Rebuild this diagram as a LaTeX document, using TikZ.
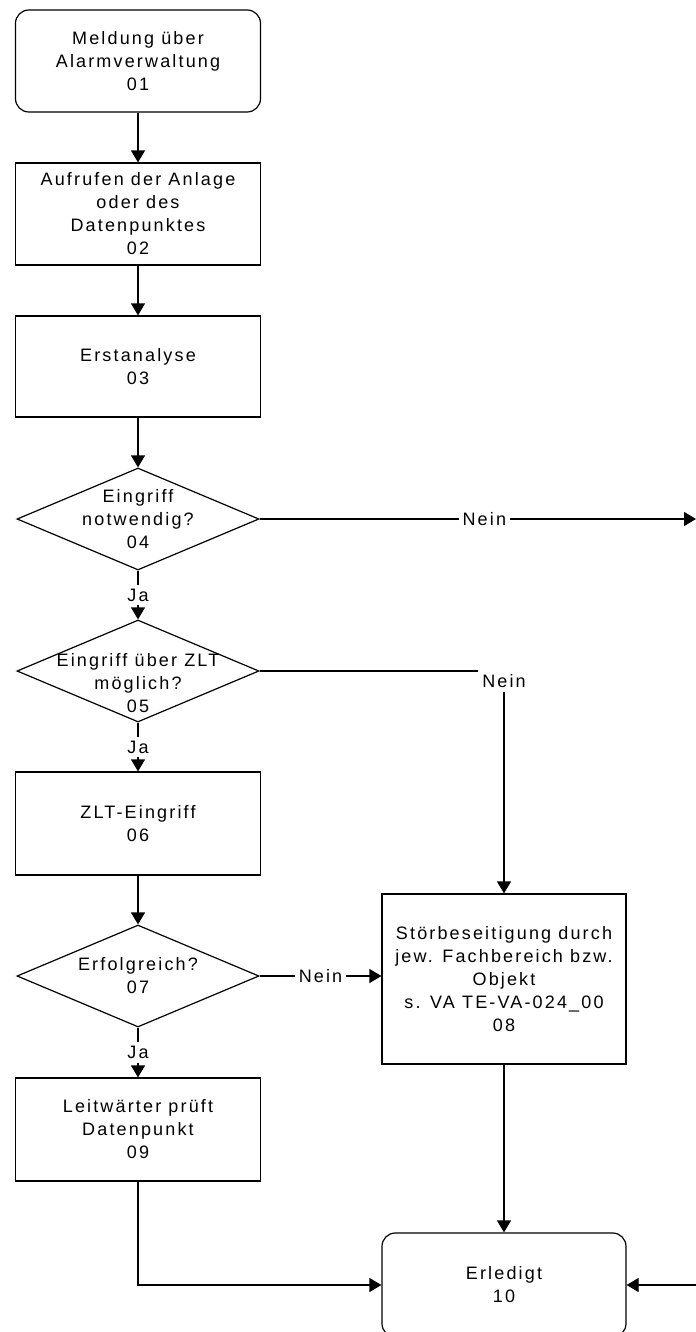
\documentclass[tikz,border=0pt]{standalone}
\usepackage{fontspec}
\usepackage{tikz}
\usetikzlibrary{positioning}
\usetikzlibrary{arrows.meta,shapes.geometric}
\newfontfamily\flowsans[LetterSpace=12]{Liberation Sans}

\begin{document}
\begin{tikzpicture}[x=0.75pt,y=-0.75pt,
  flowtext/.style={font={\flowsans\fontsize{13.5pt}{17.25pt}\selectfont},align=center},
  stepbox/.style={draw,line width=0.9pt,flowtext,minimum width=183.75pt,inner sep=2pt},
  endbox/.style={stepbox,rounded corners=10pt},
  decision/.style={draw,line width=0.9pt,diamond,minimum width=181.5pt,minimum height=76.5pt,inner sep=0pt},
  flow/.style={line width=0.9pt,-{Triangle[length=9pt,width=10.5pt]}},
  answer/.style={flowtext,fill=white,inner sep=3pt}]
\useasboundingbox (0,0) rectangle (696,1332);
%%%%%%%%%%%%%%%%%%%%%%%%%%%%%%%%% left column
\node[endbox,minimum height=76.5pt] (n01) at (138,61) {Meldung über\\Alarmverwaltung\\01};
\node[stepbox,minimum height=76.5pt] (n02) at (138,214) {Aufrufen der Anlage\\oder des\\Datenpunktes\\02};
\node[stepbox,minimum height=75.75pt] (n03) at (138,366.5) {Erstanalyse\\03};
\node[decision,label={[flowtext]center:Eingriff\\notwendig?\\04}] (d04) at (138,519) {};
\node[decision,label={[flowtext,yshift=-9pt]center:Eingriff über ZLT\\möglich?\\05}] (d05) at (138,671) {};
\node[stepbox,minimum height=77.25pt] (n06) at (138,823.5) {ZLT-Eingriff\\06};
\node[decision,label={[flowtext]center:Erfolgreich?\\07}] (d07) at (138,976) {};
\node[stepbox,minimum height=77.25pt] (n09) at (138,1129.5) {Leitwärter prüft\\Datenpunkt\\09};
%%%%%%%%%%%%%%%%%%%%%%%%%%%%%%%%% right column
\node[stepbox,minimum width=183pt,minimum height=127.5pt] (n08) at (504,979) {Störbeseitigung durch\\jew. Fachbereich bzw.\\Objekt\\s. VA TE-VA-024\_00\\08};
\node[endbox,minimum width=183pt,minimum height=78pt] (n10) at (504,1285) {Erledigt\\10};
\coordinate (offright) at (696,519);
\coordinate (backin) at (696,1285);
%%%%%%%%%%%%%%%%%%%%%%%%%%%%%%%%% connectors
\draw[flow] (n01.south) -- (n02.north);
\draw[flow] (n02.south) -- (n03.north);
\draw[flow] (n03.south) -- (d04.north);
\draw[flow] (d04.south) -- node[answer] {Ja} (d05.north);
\draw[flow] (d05.south) -- node[answer] {Ja} (n06.north);
\draw[flow] (n06.south) -- (d07.north);
\draw[flow] (d07.south) -- node[answer] {Ja} (n09.north);
\draw[flow] (d04.east) -- node[answer,pos=0.515] {Nein} (offright);
\draw[flow] (d05.east) -| node[answer,pos=0.5,yshift=-7.5pt] {Nein} (n08.north);
\draw[flow] (d07.east) -- node[answer] {Nein} (d07.east -| n08.west);
\draw[flow] (n08.south) -- (n10.north);
\draw[flow] (n09.south) |- (n10.west);
\draw[flow] (backin) -- (n10.east);
\end{tikzpicture}
\end{document}
